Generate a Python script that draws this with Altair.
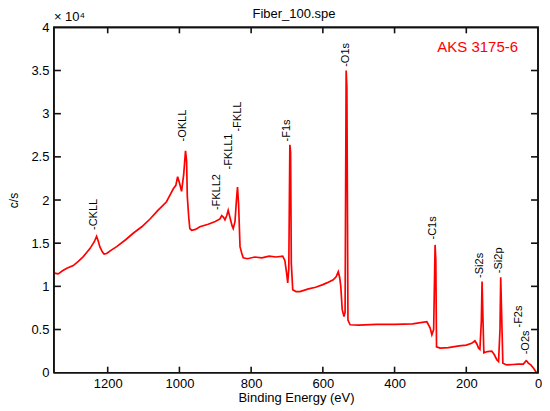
import altair as alt
import pandas as pd

# Binding energy (eV) and intensity (units of 10^4 c/s)
energy = [1350, 1345, 1338, 1326, 1314, 1296, 1282, 1268, 1249, 1237, 1231, 1226, 1222, 1215, 1210, 1203,
          1190, 1175, 1150, 1129, 1105, 1082, 1060, 1036, 1026, 1017, 1010, 1005, 1000, 994, 988, 983, 980,
          978, 974, 971, 966, 955, 943, 920, 900, 887, 882, 877, 873, 868, 864, 858, 853, 850, 845, 841, 838,
          835, 831, 826, 822, 810, 790, 770, 750, 730, 712, 706, 701, 698, 695, 692, 690, 688, 684, 675, 664,
          640, 620, 600, 589, 571, 563, 557, 553, 550, 546, 541, 538, 535, 533, 530, 524, 500, 450, 400, 350,
          310, 301, 296, 291, 287, 285, 283, 273, 250, 220, 200, 185, 176, 170, 166, 162, 158, 156, 154, 151,
          141, 129, 122, 115, 110, 106, 104, 101, 98, 87, 70, 55, 41, 33, 30, 27, 20, 13, 4, 0]
counts = [1.16, 1.15, 1.145, 1.18, 1.21, 1.24, 1.29, 1.345, 1.44, 1.52, 1.58, 1.52, 1.46, 1.40, 1.375, 1.38,
          1.42, 1.46, 1.54, 1.615, 1.69, 1.78, 1.88, 1.98, 2.06, 2.13, 2.17, 2.27, 2.20, 2.10, 2.30, 2.57, 2.45,
          2.04, 1.80, 1.67, 1.65, 1.66, 1.69, 1.72, 1.75, 1.78, 1.82, 1.80, 1.77, 1.82, 1.88, 1.78, 1.70, 1.67,
          1.75, 2.00, 2.15, 1.95, 1.46, 1.38, 1.33, 1.32, 1.34, 1.33, 1.35, 1.34, 1.35, 1.30, 1.15, 1.04, 1.20,
          2.64, 2.55, 1.27, 0.96, 0.94, 0.94, 0.97, 0.99, 1.02, 1.04, 1.075, 1.11, 1.17, 1.10, 1.00, 0.73, 0.65,
          0.70, 3.50, 3.30, 0.61, 0.555, 0.55, 0.56, 0.56, 0.565, 0.59, 0.52, 0.44, 0.50, 1.48, 1.30, 0.30, 0.285,
          0.29, 0.31, 0.32, 0.34, 0.37, 0.33, 0.285, 0.27, 0.60, 1.055, 0.70, 0.23, 0.245, 0.25, 0.21, 0.15, 0.13,
          0.50, 1.106, 0.60, 0.11, 0.09, 0.095, 0.10, 0.10, 0.14, 0.13, 0.11, 0.09, 0.054, 0.0, 0.0]

# Peak labels: text, energy position, intensity where the label starts
peak_names = ["-CKLL", "-OKLL", "-FKLL2", "-FKLL1", "-FKLL", "-F1s", "-O1s", "-C1s", "-Si2s", "-Si2p", "-F2s", "-O2s"]
peak_ev = [1237, 989, 895, 862, 838, 699, 536, 293, 162, 109, 53, 33]
peak_y = [1.63, 2.655, 1.86, 2.33, 2.77, 2.655, 3.52, 1.52, 1.075, 1.13, 0.50, 0.19]

x_ticks = [200, 400, 600, 800, 1000, 1200]
x_labels = [0, 200, 400, 600, 800, 1000, 1200]
y_ticks = [0.5, 1, 1.5, 2, 2.5, 3, 3.5]
y_labels = [0, 0.5, 1, 1.5, 2, 2.5, 3, 3.5, 4]

X_MIN, X_MAX = 0, 1350
Y_MIN, Y_MAX = 0, 4

FONT = "Liberation Sans"
W, H = 485, 346
INK = "#000000"
FRAME = "#111111"
TICK_X_LEN = Y_MAX * 6 / H        # 6 px inward, expressed on the y scale
TICK_Y_LEN = X_MAX * 7 / W        # 7 px inward, expressed on the x scale

spec = pd.DataFrame({"ev": energy, "cps": counts})
peaks = pd.DataFrame({"name": peak_names, "ev": peak_ev, "y": peak_y})

# frame and inward ticks drawn as line segments (group g, point order i)
rows = []
for i, (fx, fy) in enumerate([(X_MAX, Y_MIN), (X_MIN, Y_MIN), (X_MIN, Y_MAX), (X_MAX, Y_MAX), (X_MAX, Y_MIN)]):
    rows.append({"g": "frame", "i": i, "fx": fx, "fy": fy})
for t in x_ticks:
    rows += [{"g": f"b{t}", "i": 0, "fx": t, "fy": Y_MIN}, {"g": f"b{t}", "i": 1, "fx": t, "fy": Y_MIN + TICK_X_LEN}]
    rows += [{"g": f"t{t}", "i": 0, "fx": t, "fy": Y_MAX}, {"g": f"t{t}", "i": 1, "fx": t, "fy": Y_MAX - TICK_X_LEN}]
for v in y_ticks:
    rows += [{"g": f"l{v}", "i": 0, "fx": X_MAX, "fy": v}, {"g": f"l{v}", "i": 1, "fx": X_MAX - TICK_Y_LEN, "fy": v}]
    rows += [{"g": f"r{v}", "i": 0, "fx": X_MIN, "fy": v}, {"g": f"r{v}", "i": 1, "fx": X_MIN + TICK_Y_LEN, "fy": v}]
frame_df = pd.DataFrame(rows)

xscale = alt.Scale(domain=[X_MIN, X_MAX], reverse=True, nice=False, zero=False)
yscale = alt.Scale(domain=[Y_MIN, Y_MAX], nice=False)

xaxis = alt.Axis(values=x_labels, ticks=False, labelPadding=5, labelFlush=False, format="d",
                 domain=False, title="Binding Energy (eV)", titleY=19, titleBaseline="top",
                 labelFontSize=13, titleFontSize=13, titleFontWeight="normal")
yaxis = alt.Axis(values=y_labels, ticks=False, labelPadding=5, labelFlush=False, format="~g",
                 domain=False, title="c/s", titleX=-33, titleY=H / 2, titleAngle=-90,
                 titleBaseline="bottom", labelFontSize=13, titleFontSize=12, titleFontWeight="normal")

line = alt.Chart(spec).mark_line(color="#ff0000", strokeWidth=1.7).encode(
    x=alt.X("ev:Q", scale=xscale, axis=xaxis),
    y=alt.Y("cps:Q", scale=yscale, axis=yaxis),
)

frame = alt.Chart(frame_df).mark_line(color=FRAME, strokeWidth=1.6).encode(
    x="fx:Q", y="fy:Q", detail="g:N", order="i:Q")

labels = alt.Chart(peaks).mark_text(angle=270, align="left", baseline="middle", dx=2,
                                    font=FONT, fontSize=11, color=INK).encode(
    x="ev:Q", y="y:Q", text="name:N")

aks = alt.Chart(pd.DataFrame({"t": ["AKS 3175-6"]})).mark_text(
    align="right", baseline="middle", font=FONT, fontSize=15, color="#ff0000").encode(
    x=alt.value(465), y=alt.value(20), text="t:N")

mult = alt.Chart(pd.DataFrame({"t": ["× 10⁴"]})).mark_text(
    align="left", baseline="alphabetic", font=FONT, fontSize=13, color=INK).encode(
    x=alt.value(0), y=alt.value(-6), text="t:N")

ttl = alt.Chart(pd.DataFrame({"t": ["Fiber_100.spe"]})).mark_text(
    align="center", baseline="alphabetic", font=FONT, fontSize=13, color=INK).encode(
    x=alt.value(W / 2 - 2), y=alt.value(-9), text="t:N")

chart = alt.layer(line, frame, labels, aks, mult, ttl).properties(
    width=W, height=H, padding=0,
).configure_view(stroke=FRAME, strokeWidth=1.6).configure_axis(
    grid=False, labelFont=FONT, titleFont=FONT, labelColor=INK, titleColor=INK
).configure_text(font=FONT)

chart.save("out.html", embed_options={"renderer": "svg", "actions": False})
